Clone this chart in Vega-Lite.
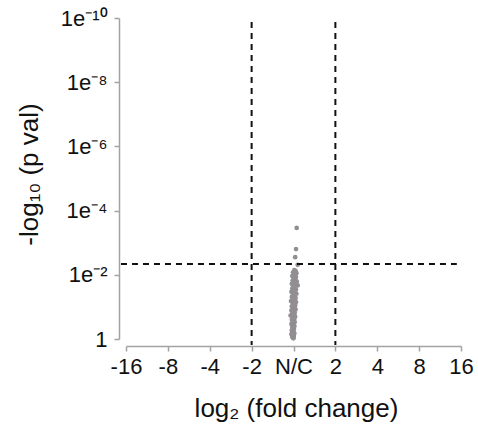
{
  "$schema": "https://vega.github.io/schema/vega-lite/v6.json",
  "width": 335,
  "height": 321,
  "autosize": {"type": "none"},
  "padding": {"left": 126, "top": 18, "right": 17, "bottom": 89},
  "config": {
    "view": {"stroke": null},
    "font": "Liberation Sans",
    "axis": {
      "grid": false,
      "domainColor": "#a3a3a3",
      "domainWidth": 1.5,
      "tickColor": "#a3a3a3",
      "tickWidth": 1.5,
      "tickSize": 5,
      "labelColor": "#111111",
      "labelFont": "Liberation Sans",
      "labelFontSize": 22,
      "labelFlush": false,
      "labelOverlap": false,
      "labelBound": false,
      "titleFont": "Liberation Sans",
      "titleFontSize": 26,
      "titleFontWeight": "normal",
      "titleColor": "#111111"
    }
  },
  "data": {
    "values": [
      {"fc": 0.076, "nlp": 3.46}, {"fc": 0.06, "nlp": 2.8}, {"fc": 0.04, "nlp": 2.55}, {"fc": 0.1, "nlp": 2.31},
      {"fc": 0.02, "nlp": 2.15}, {"fc": 0.05, "nlp": 2.12}, {"fc": -0.01, "nlp": 2.08}, {"fc": 0.07, "nlp": 2.05},
      {"fc": 0.03, "nlp": 2.0}, {"fc": -0.03, "nlp": 1.96}, {"fc": 0.06, "nlp": 1.93}, {"fc": 0.01, "nlp": 1.9},
      {"fc": 0.04, "nlp": 1.86}, {"fc": -0.02, "nlp": 1.82}, {"fc": 0.08, "nlp": 1.79}, {"fc": 0.02, "nlp": 1.75},
      {"fc": -0.04, "nlp": 1.72}, {"fc": 0.05, "nlp": 1.69}, {"fc": 0.1, "nlp": 1.67}, {"fc": 0.0, "nlp": 1.64},
      {"fc": 0.03, "nlp": 1.6}, {"fc": -0.03, "nlp": 1.57}, {"fc": 0.06, "nlp": 1.54}, {"fc": 0.01, "nlp": 1.5},
      {"fc": -0.05, "nlp": 1.47}, {"fc": 0.04, "nlp": 1.44}, {"fc": 0.07, "nlp": 1.41}, {"fc": -0.01, "nlp": 1.38},
      {"fc": 0.02, "nlp": 1.34}, {"fc": -0.04, "nlp": 1.31}, {"fc": 0.05, "nlp": 1.28}, {"fc": 0.0, "nlp": 1.25},
      {"fc": 0.03, "nlp": 1.21}, {"fc": -0.06, "nlp": 1.18}, {"fc": 0.06, "nlp": 1.15}, {"fc": -0.02, "nlp": 1.12},
      {"fc": 0.01, "nlp": 1.08}, {"fc": 0.04, "nlp": 1.05}, {"fc": -0.04, "nlp": 1.02}, {"fc": 0.02, "nlp": 0.99},
      {"fc": -0.01, "nlp": 0.95}, {"fc": 0.05, "nlp": 0.92}, {"fc": -0.05, "nlp": 0.89}, {"fc": 0.0, "nlp": 0.86},
      {"fc": 0.03, "nlp": 0.82}, {"fc": -0.03, "nlp": 0.79}, {"fc": 0.01, "nlp": 0.76}, {"fc": -0.07, "nlp": 0.73},
      {"fc": 0.04, "nlp": 0.7}, {"fc": -0.01, "nlp": 0.66}, {"fc": 0.02, "nlp": 0.63}, {"fc": -0.04, "nlp": 0.6},
      {"fc": 0.0, "nlp": 0.57}, {"fc": 0.03, "nlp": 0.53}, {"fc": -0.02, "nlp": 0.5}, {"fc": -0.05, "nlp": 0.47},
      {"fc": 0.01, "nlp": 0.44}, {"fc": 0.02, "nlp": 0.4}, {"fc": -0.03, "nlp": 0.37}, {"fc": -0.01, "nlp": 0.34},
      {"fc": 0.01, "nlp": 0.31}, {"fc": -0.04, "nlp": 0.27}, {"fc": 0.0, "nlp": 0.24}, {"fc": -0.02, "nlp": 0.21},
      {"fc": 0.02, "nlp": 0.18}, {"fc": -0.05, "nlp": 0.15}, {"fc": -0.01, "nlp": 0.12}, {"fc": 0.01, "nlp": 0.09},
      {"fc": -0.03, "nlp": 0.06}, {"fc": -0.01, "nlp": 0.04}, {"fc": 0.0, "nlp": 0.02}
    ]
  },
  "layer": [
    {
      "mark": {"type": "circle", "size": 22, "color": "#928e92", "opacity": 1},
      "encoding": {
        "x": {
          "field": "fc", "type": "quantitative",
          "scale": {"domain": [-4, 4], "nice": false, "zero": false},
          "axis": {
            "title": "log₂ (fold change)",
            "values": [-4, -3, -2, -1, 0, 1, 2, 3, 4],
            "labelExpr": "datum.value == 0 ? 'N/C' : (datum.value < 0 ? '-' : '') + pow(2, abs(datum.value))",
            "offset": 7,
            "labelPadding": 5,
            "titleBaseline": "alphabetic",
            "titleY": 70,
            "titleX": 170
          }
        },
        "y": {
          "field": "nlp", "type": "quantitative",
          "scale": {"domain": [0, 10], "nice": false},
          "axis": {
            "title": "-log₁₀ (p val)",
            "values": [0, 2, 4, 6, 8, 10],
            "labelExpr": "datum.value == 0 ? '1' : datum.value == 2 ? '1e⁻²' : datum.value == 4 ? '1e⁻⁴' : datum.value == 6 ? '1e⁻⁶' : datum.value == 8 ? '1e⁻⁸' : '1e⁻¹⁰'",
            "offset": 7,
            "labelPadding": 7,
            "titleBaseline": "alphabetic",
            "titleX": -82,
            "titleY": 156
          }
        }
      }
    },
    {
      "data": {"values": [{"fc": -1}, {"fc": 1}]},
      "mark": {"type": "rule", "strokeDash": [6, 5], "strokeWidth": 2, "color": "#111111"},
      "encoding": {
        "x": {"field": "fc", "type": "quantitative"},
        "y": {"datum": 9.875},
        "y2": {"datum": -0.19}
      }
    },
    {
      "data": {"values": [{"threshold": 2.34}]},
      "mark": {"type": "rule", "strokeDash": [6, 5], "strokeWidth": 2, "color": "#111111"},
      "encoding": {
        "y": {"field": "threshold", "type": "quantitative"},
        "x": {"datum": -4.12},
        "x2": {"datum": 3.9}
      }
    }
  ]
}
